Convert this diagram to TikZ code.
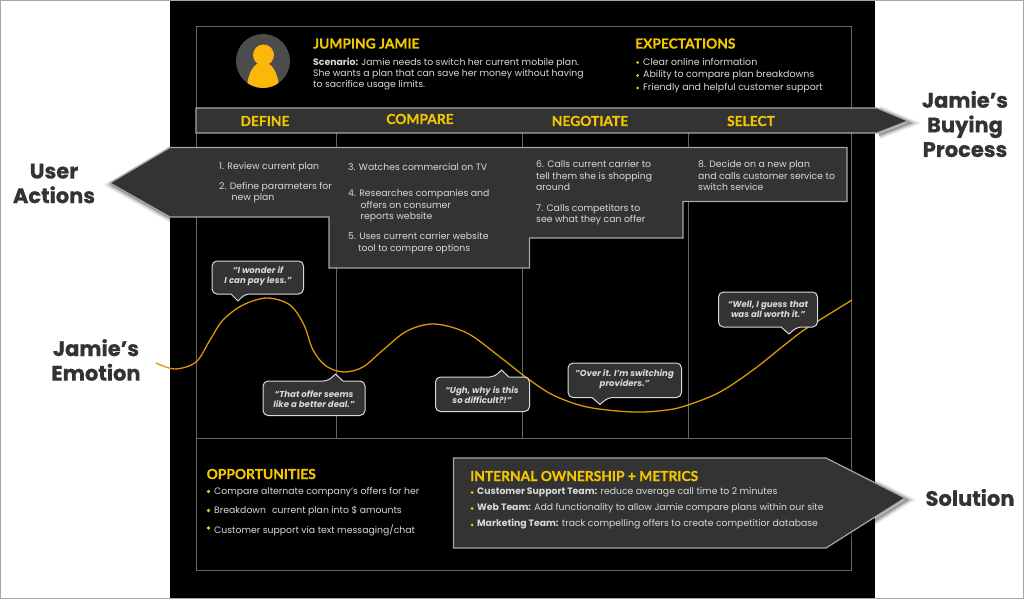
\documentclass[tikz,border=0pt]{standalone}
\usepackage{fontspec}
\setmainfont{Poppins}
\newfontfamily\headfont[BoldFeatures={FakeBold=0.5}]{Lato}
\newfontfamily\sidefont[BoldFeatures={FakeBold=0.7}]{Poppins}
\usetikzlibrary{calc}
\definecolor{panelgray}{HTML}{333333}
\definecolor{edgegray}{HTML}{A6A6A6}
\definecolor{gridgray}{HTML}{666666}
\definecolor{headyellow}{HTML}{F2C700}
\definecolor{avatarorange}{HTML}{FDB60A}
\definecolor{curvegold}{HTML}{D89A00}
\definecolor{bodytext}{HTML}{D9D9D9}
\definecolor{labeldark}{HTML}{333333}
\tikzset{
  panel/.style={fill=panelgray,draw=edgegray,line width=1.2pt,line join=miter},
  bubble/.style={fill=panelgray,draw=bodytext,line width=1pt,line join=round},
  grid line/.style={draw=gridgray,line width=1pt},
  head/.style={inner sep=0pt,anchor=base west,text=headyellow,font=\headfont\bfseries\fontsize{13.8}{16}\selectfont},
  bandhead/.style={inner sep=0pt,anchor=center,text=headyellow,font=\headfont\bfseries\fontsize{13.8}{16}\selectfont},
  body/.style={inner sep=0pt,anchor=north west,align=left,text=bodytext,font=\fontsize{9.3}{11.4}\selectfont},
  quote/.style={inner sep=0pt,anchor=center,align=center,text=bodytext,font=\bfseries\itshape\fontsize{8.6}{10.2}\selectfont},
  side/.style={inner sep=0pt,anchor=center,align=center,text=labeldark,font=\sidefont\bfseries\fontsize{21}{24.6}\selectfont},
  dot/.style={circle,fill=headyellow,inner sep=0pt,minimum size=3.6pt},
}
\newcommand{\softshadow}[1]{%
  \foreach \w/\op in {9/.05,7/.07,5/.09,3/.12,1.5/.16}{
    \draw[black,opacity=\op,line width=\w pt,line join=miter,shift={(2pt,-2pt)}] #1;
  }}
\begin{document}
\begin{tikzpicture}[x=1pt,y=-1pt]
\useasboundingbox (0,0) rectangle (1024,599);
\fill[white] (0,0) rectangle (1024,599);
\fill[black] (170,0) rectangle (875,599);
\draw[edgegray,line width=1pt] (0.5,0.5) rectangle (1023.5,598.5);
% frame and grid
\draw[grid line] (196,26.5) rectangle (851.5,570);
\draw[grid line] (196,438.5) -- (851.5,438.5);
\draw[grid line] (336.5,133) -- (336.5,438.5);
\draw[grid line] (522.5,133) -- (522.5,438.5);
\draw[grid line] (688,133) -- (688,438.5);
% avatar
\fill[black!70!white] (263,61) circle (27);
\begin{scope}
  \clip (263,61) circle (27);
  \fill[avatarorange] (247,90) .. controls (247,72) and (255,62) .. (263,62) .. controls (271,62) and (279,72) .. (279,90) -- cycle;
\end{scope}
\fill[avatarorange] (263.5,55) circle (10.5);
\node[head] (persona) at (313,48.5) {JUMPING JAMIE};
\node[body,text=bodytext] (scenario) at (313,57.5) {\textbf{Scenario:} Jamie needs to switch her current mobile plan.\\She wants a plan that can save her money without having\\to sacrifice usage limits.};
\node[head] (expect) at (635,48.5) {EXPECTATIONS};
\node[dot,minimum size=3pt] (ed1) at (637.5,62.5) {};
\node[dot,minimum size=3pt] (ed2) at (637.5,75.5) {};
\node[dot,minimum size=3pt] (ed3) at (637.5,88) {};
\node[body,anchor=west,font=\fontsize{9.45}{11.4}\selectfont] (e1) at (643,62) {Clear online information};
\node[body,anchor=west,font=\fontsize{9.45}{11.4}\selectfont] (e2) at (643,75) {Ability to compare plan breakdowns};
\node[body,anchor=west,font=\fontsize{9.45}{11.4}\selectfont] (e3) at (643,88) {Friendly and helpful customer support};
% process band
\softshadow{(877,108) -- (908,121) -- (877,133)}
\draw[panel] (196,108) -- (877,108) -- (908,121) -- (877,133) -- (196,133) -- cycle;
\node[bandhead] (define) at (265,121) {DEFINE};
\node[bandhead] (compare) at (420,119) {COMPARE};
\node[bandhead] (negotiate) at (590,121) {NEGOTIATE};
\node[bandhead] (select) at (751,121) {SELECT};
% user actions
\softshadow{(170,147.5) -- (110,183) -- (170,217)}
\draw[panel] (110,183) -- (170,147.5) -- (847,147.5) -- (847,201.5) -- (683,201.5) -- (683,238) -- (529.5,238) -- (529.5,268) -- (329,268) -- (329,217) -- (170,217) -- cycle;
\node[body,anchor=west] (a1) at (219,167.5) {1. Review current plan};
\node[body] (a2) at (219,182) {2. Define parameters for\\\hspace*{12.5pt}new plan};
\node[body,anchor=west] (a3) at (348,167.5) {3. Watches commercial on TV};
\node[body] (a4) at (348,189.5) {4. Researches companies and\\\hspace*{12.5pt}offers on consumer\\\hspace*{12.5pt}reports website};
\node[body] (a5) at (348,232.5) {5. Uses current carrier website\\\hspace*{10pt}tool to compare options};
\node[body] (a6) at (536,160.5) {6. Calls current carrier to\\tell them she is shopping\\around};
\node[body] (a7) at (536,204) {7. Calls competitors to\\see what they can offer};
\node[body] (a8) at (698,160.5) {8. Decide on a new plan\\and calls customer service to\\switch service};
% emotion curve
\draw[curvegold,line width=1.3pt] plot[smooth,tension=.55] coordinates {(156,363) (175,369) (196,362) (210,340) (223,320) (243,305) (267,298) (290,305) (304,325) (313,350) (326,366) (344,372) (363,367) (383,350) (407,331) (434,324) (467,333) (500,357) (527,378) (553,395) (587,407) (633,412) (667,410) (688,405) (720,392) (753,370) (787,343) (807,328) (852,300)};
% bubbles
\draw[bubble,rounded corners=5pt] (212,261) -- (303.5,261) -- (303.5,294) -- (245,294) [sharp corners] -- (238,301) -- (231,294) [rounded corners=5pt] -- (212,294) -- cycle;
\node[quote] (q1) at (258,276.5) {“I wonder if\\I can pay less.”};
\draw[bubble,rounded corners=5pt] (263,381) -- (328,381) [sharp corners] -- (335.5,374) -- (343,381) [rounded corners=5pt] -- (365,381) -- (365,415.5) -- (263,415.5) -- cycle;
\node[quote] (q2) at (314,399) {“That offer seems\\like a better deal.”};
\draw[bubble,rounded corners=5pt] (435.5,377) -- (494,377) [sharp corners] -- (501.5,370) -- (509,377) [rounded corners=5pt] -- (529.5,377) -- (529.5,411.5) -- (435.5,411.5) -- cycle;
\node[quote] (q3) at (482,395) {“Ugh, why is this\\so difficult?!”};
\draw[bubble,rounded corners=5pt] (568,363) -- (681.5,363) -- (681.5,397.5) -- (608,397.5) [sharp corners] -- (600,404.5) -- (592,397.5) [rounded corners=5pt] -- (568,397.5) -- cycle;
\node[quote] (q4) at (624.5,379) {"Over it. I’m switching\\providers."};
\draw[bubble,rounded corners=5pt] (718.5,292) -- (817.5,292) -- (817.5,327) -- (797,327) [sharp corners] -- (789,334) -- (781,327) [rounded corners=5pt] -- (718.5,327) -- cycle;
\node[quote] (q5) at (768,309) {“Well, I guess that\\was all worth it.”};
% opportunities
\node[head] (opp) at (206.5,479) {OPPORTUNITIES};
\node[dot] (od1) at (208.5,491.5) {};
\node[dot] (od2) at (208.5,510.5) {};
\node[dot] (od3) at (208.5,528) {};
\node[body,anchor=west] (o1) at (214,492.5) {Compare alternate company’s offers for her};
\node[body,anchor=west] (o2) at (214,511) {Breakdown\hspace{6pt}current plan into \$ amounts};
\node[body,anchor=west] (o3) at (214,530) {Customer support via text messaging/chat};
% ownership
\softshadow{(826,458) -- (905,498) -- (826,548)}
\draw[panel] (453.5,458) -- (826,458) -- (905,498) -- (826,548) -- (453.5,548) -- cycle;
\node[head] (own) at (470,481) {INTERNAL OWNERSHIP + METRICS};
\node[dot,minimum size=3pt] (id1) at (472,492.5) {};
\node[dot,minimum size=3pt] (id2) at (472,508.5) {};
\node[dot,minimum size=3pt] (id3) at (472,525) {};
\node[body,anchor=west] (i1) at (477,492) {\textbf{Customer Support Team:} reduce average call time to 2 minutes};
\node[body,anchor=west] (i2) at (477,508) {\textbf{Web Team:} Add functionality to allow Jamie compare plans within our site};
\node[body,anchor=west] (i3) at (477,524.5) {\textbf{Marketing Team:} track compelling offers to create competitior database};
% side labels
\node[side] (lbuy) at (965,124) {Jamie’s\\Buying\\Process};
\node[side] (luser) at (54,183.5) {User\\Actions};
\node[side] (lemo) at (96,360) {Jamie’s\\Emotion};
\node[side] (lsol) at (970,497.5) {Solution};
\end{tikzpicture}
\end{document}
